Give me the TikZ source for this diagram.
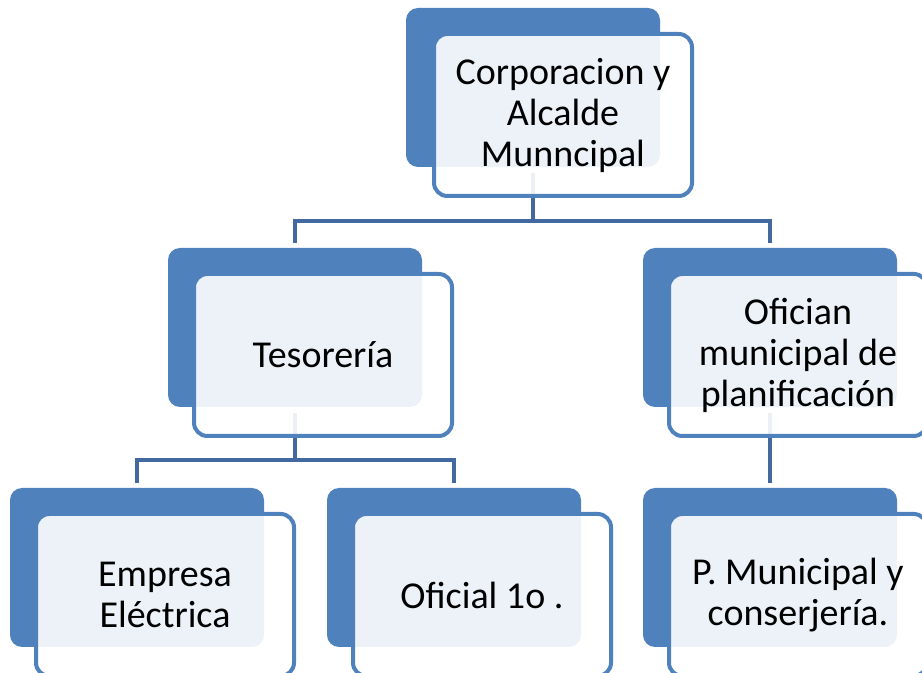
\documentclass[tikz,border=0pt]{standalone}
\usepackage{fontspec}
\setmainfont{Carlito}
\definecolor{cardblue}{RGB}{79,129,189}
\definecolor{connblue}{RGB}{66,106,160}
\begin{document}
\begin{tikzpicture}[x=0.75pt,y=-0.75pt,
  backcard/.style={anchor=north west,fill=cardblue,draw=none,rounded corners=9pt,
    minimum width=190.5pt,minimum height=119.25pt,inner sep=0pt,outer sep=0pt},
  frontcard/.style={anchor=north west,fill=white,fill opacity=0.9,text opacity=1,
    draw=cardblue,line width=3pt,rounded corners=10pt,
    minimum width=193.5pt,minimum height=121.5pt,inner sep=0pt,outer sep=0pt,
    align=center,font=\fontsize{28.5}{30.75}\selectfont},
  conn/.style={draw=connblue,line width=3.3pt}]
\useasboundingbox (0,0) rectangle (922,673);
\begin{scope}
\clip (0,0) rectangle (922,673);
% back cards
\node[backcard] (topB) at (406,8) {};
\node[backcard] (tesB) at (168,248) {};
\node[backcard] (planB) at (643,248) {};
\node[backcard] (empB) at (10,488) {};
\node[backcard] (ofiB) at (327,488) {};
\node[backcard] (pmB) at (643,488) {};
% connectors
\draw[conn] ([yshift=-4.5pt]topB.south) -- (topB.south |- 0,221) -| ([yshift=3.75pt]tesB.north);
\draw[conn] (topB.south |- 0,221) -| ([yshift=3.75pt]planB.north);
\draw[conn] ([yshift=-4.5pt]tesB.south) -- (tesB.south |- 0,460) -| ([yshift=3.75pt]empB.north);
\draw[conn] (tesB.south |- 0,460) -| ([yshift=3.75pt]ofiB.north);
\draw[conn] ([yshift=-4.5pt]planB.south) -- ([yshift=3.75pt]pmB.north);
% front cards
\node[frontcard] (top) at (434,34) {Corporacion y\\Alcalde\\Munncipal};
\node[frontcard] (tes) at (194,274) {Tesorería};
\node[frontcard] (plan) at (669,274) {Ofician\\municipal de\\planificación};
\node[frontcard] (emp) at (36,514) {Empresa\\Eléctrica};
\node[frontcard] (ofi) at (353,514) {Oficial 1o .};
\node[frontcard] (pm) at (669,514) {P. Municipal y\\conserjería.};
\end{scope}
\end{tikzpicture}
\end{document}
